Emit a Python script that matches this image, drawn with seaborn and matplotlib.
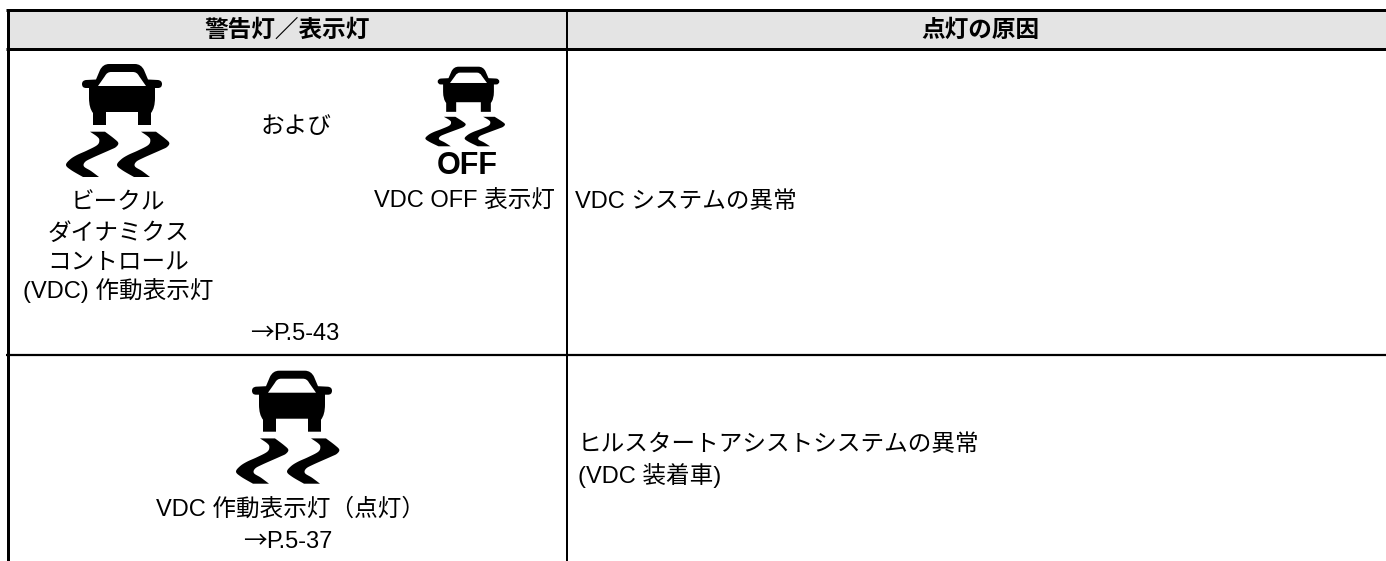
import matplotlib
matplotlib.use("Agg")
import matplotlib.pyplot as plt
from matplotlib.path import Path
from matplotlib.patches import PathPatch
import numpy as np
import seaborn as sns

headers = ["警告灯／表示灯", "点灯の原因"]
header_shade = [[0.19]]
row1_left = ["ビークル", "ダイナミクス", "コントロール", "(VDC) 作動表示灯"]
row1_and = "および"
row1_off_label = "VDC OFF 表示灯"
row1_off_word = "OFF"
row1_ref = "P.5-43"
row1_cause = "VDC システムの異常"
row2_left = "VDC 作動表示灯（点灯）"
row2_ref = "P.5-37"
row2_cause = ["ヒルスタートアシストシステムの異常", "(VDC 装着車)"]
arrow = "→"

W, H = 1386, 561
FONT = ["Liberation Sans", "Noto Sans CJK JP"]
FS = 17

sns.set_theme(style="white")
plt.rcParams["font.family"] = FONT

fig = plt.figure(figsize=(W / 100, H / 100), dpi=100)

# header band as a one cell heatmap
ax_head = fig.add_axes([7 / W, 1 - 48 / H, (W - 7) / W, 38 / H])
sns.heatmap(header_shade, ax=ax_head, cmap="Greys", vmin=0, vmax=1, cbar=False,
            xticklabels=False, yticklabels=False)

# everything else in pixel coordinates
ax = fig.add_axes([0, 0, 1, 1])
ax.set_xlim(0, W)
ax.set_ylim(H, 0)
ax.axis("off")
ax.patch.set_alpha(0)


def car_path():
    left = [
        (Path.MOVETO, (0, 0)), (Path.LINETO, (-13, 0)),
        (Path.CURVE3, (-19, 0)), (Path.CURVE3, (-22, 6)),
        (Path.LINETO, (-26, 15.5)), (Path.LINETO, (-36, 16)),
        (Path.CURVE3, (-40, 16.5)), (Path.CURVE3, (-40, 20)),
        (Path.CURVE3, (-40, 24)), (Path.CURVE3, (-36, 24)),
        (Path.LINETO, (-33, 24)), (Path.LINETO, (-33, 34)),
        (Path.CURVE3, (-33, 44)), (Path.CURVE3, (-29, 49)),
        (Path.LINETO, (-29, 61)), (Path.LINETO, (-16, 61)),
        (Path.LINETO, (-16, 48)), (Path.LINETO, (0, 48)),
    ]
    v = [p for _, p in left]
    c = [code for code, _ in left]
    # right side is the left side read backwards
    pts = [(-x, y) for _, (x, y) in left][::-1]
    codes = c[::-1]
    for i in range(1, len(pts)):
        v.append(pts[i])
        c.append(codes[i - 1] if codes[i - 1] != Path.MOVETO else Path.LINETO)
    v.append((0, 0))
    c.append(Path.CLOSEPOLY)
    # windscreen cut out, wound the other way round from the body
    win = [(-11, 8), (11, 8), (15, 8), (17, 12), (24, 22), (-24, 22), (-17, 12), (-15, 8), (-11, 8), (-11, 8)]
    wc = [Path.MOVETO, Path.LINETO, Path.CURVE3, Path.CURVE3, Path.LINETO, Path.LINETO,
          Path.LINETO, Path.CURVE3, Path.CURVE3, Path.CLOSEPOLY]
    return v + win, c + wc


def smooth(pts, n=8):
    # catmull-rom through the outline points so the s-bends stay round
    p = np.array([pts[0]] + list(pts) + [pts[-1]], dtype=float)
    out = []
    for i in range(1, len(p) - 2):
        for t in np.linspace(0, 1, n, endpoint=False):
            out.append(0.5 * (2 * p[i] + (p[i + 1] - p[i - 1]) * t
                              + (2 * p[i - 1] - 5 * p[i] + 4 * p[i + 1] - p[i + 2]) * t ** 2
                              + (3 * p[i] - p[i - 1] - 3 * p[i + 1] + p[i + 2]) * t ** 3))
    out.append(p[-1])
    return out


edge_a = [(-32, 67.7), (-25, 72.5), (-22.7, 76), (-24.7, 81), (-35, 86.5), (-45, 91),
          (-52, 95.5), (-56, 101), (-51, 106), (-39, 113)]
edge_b = [(-23, 113), (-31, 107), (-38, 102.5), (-37, 98), (-30, 94), (-12, 86),
          (-6, 83), (-3.7, 79), (-8, 74.5), (-17, 67.7)]


def draw_icon(cx, top, sx, sy, squash=1.0):
    v, c = car_path()
    v = [tuple(q) for q in v]
    for dx in (0, 51):
        outline = smooth(edge_a) + smooth(edge_b)
        sv = [(q[0] + dx, 67.7 + (q[1] - 67.7) * squash) for q in outline]
        v = v + sv + [sv[0]]
        c = c + [Path.MOVETO] + [Path.LINETO] * (len(sv) - 1) + [Path.CLOSEPOLY]
    v = np.array(v, dtype=float) * [sx, sy] + [cx, top]
    ax.add_patch(PathPatch(Path(v, c), fc="black", ec="none"))


draw_icon(122, 64, 1.0, 1.0)
draw_icon(468.5, 66.7, 0.77, 0.74, 0.88)
draw_icon(292, 370.7, 1.0, 1.0)

# table rules
for y, lw in ((9.5, 2.16), (48.5, 2.16), (355, 1.6)):
    ax.plot([6, W], [y, y], color="black", lw=lw, solid_capstyle="butt")
for x, lw in ((7.5, 2.16), (567, 1.44)):
    ax.plot([x, x], [9, H], color="black", lw=lw, solid_capstyle="butt")


def txt(x, y, s, ha="center", **kw):
    ax.text(x, y, s, ha=ha, va="baseline", fontsize=kw.pop("fs", FS), color="black", **kw)


def page_ref(x, y, s):
    txt(x, y, s, ha="left")
    txt(x + 1, y, arrow, ha="right", family=["Noto Sans CJK JP"])


txt(287, 37, headers[0], fontweight="bold")
txt(980, 37, headers[1], fontweight="bold")

for y, s in zip((209, 240, 268, 298), row1_left):
    txt(118, y, s)
txt(295.5, 133, row1_and)
txt(464, 208, row1_off_label)
txt(467.5, 174, row1_off_word, fs=22, fontweight="bold")
page_ref(273, 340, row1_ref)
txt(575, 208, row1_cause, ha="left")

txt(156, 516, row2_left, ha="left")
page_ref(266, 548, row2_ref)
txt(578, 451, row2_cause[0], ha="left")
txt(578, 483, row2_cause[1], ha="left")

fig.savefig("out.png", dpi=100)
